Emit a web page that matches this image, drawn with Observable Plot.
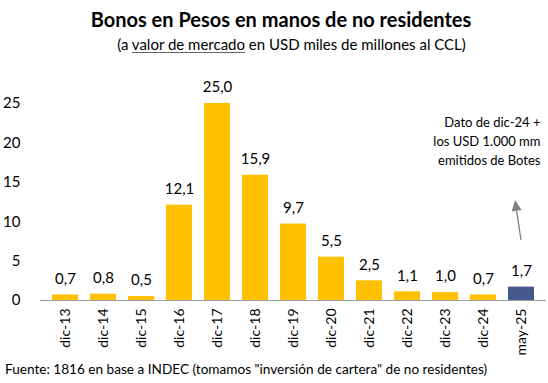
<!DOCTYPE html>
<html>
<head>
<meta charset="utf-8">
<script src="https://cdn.jsdelivr.net/npm/d3@7"></script>
<script src="https://cdn.jsdelivr.net/npm/@observablehq/plot@0.6"></script>
<style>
  body { margin: 0; background: #fff; font-family: Lato, "Open Sans", sans-serif; }
  #wrap { width: 548px; height: 383px; position: relative; overflow: hidden; }
  #title { position: absolute; left: 0; width: 562px; top: 7px; text-align: center; font-weight: bold; font-size: 20px; color: #000; }
  #subtitle { position: absolute; left: 0; width: 583px; top: 35px; text-align: center; font-size: 15px; color: #000; }
  #subtitle u { text-decoration-color: #666; text-underline-offset: 2px; }
  #chart { position: absolute; left: 0; top: 60px; }
  #caption { position: absolute; left: 5px; top: 361px; font-size: 13.6px; color: #000; white-space: nowrap; }
</style>
</head>
<body>
<div id="wrap">
  <div id="title">Bonos en Pesos en manos de no residentes</div>
  <div id="subtitle">(a <u>valor de mercado</u> en USD miles de millones al CCL)</div>
  <div id="chart"></div>
  <div id="caption">Fuente: 1816 en base a INDEC (tomamos "inversión de cartera" de no residentes)</div>
</div>
<script>
const categories = ["dic-13","dic-14","dic-15","dic-16","dic-17","dic-18","dic-19","dic-20","dic-21","dic-22","dic-23","dic-24","may-25"];
const values = [0.7, 0.8, 0.5, 12.1, 25.0, 15.9, 9.7, 5.5, 2.5, 1.1, 1.0, 0.7, 1.7];
const highlighted = ["may-25"];
const yTicks = [0, 5, 10, 15, 20, 25];
const noteLines = ["Dato de dic-24 +", "los USD 1.000 mm", "emitidos de Botes"];
const arrowFrom = 7.6;
const arrowTo = 12.7;

const data = categories.map((c, i) => ({cat: c, value: values[i], hi: highlighted.includes(c)}));
const fmt = v => v.toFixed(1).replace(".", ",");

const chart = Plot.plot({
  width: 548,
  height: 295,
  marginTop: 43,
  marginBottom: 55,
  marginLeft: 40,
  marginRight: 2,
  style: {fontFamily: "Lato, 'Open Sans', sans-serif", color: "#000", background: "transparent"},
  x: {domain: categories, padding: 0.31, label: null},
  y: {domain: [0, 25], label: null},
  marks: [
    Plot.barY(data, {x: "cat", y: "value", fill: d => d.hi ? "#45598F" : "#FFC000"}),
    Plot.ruleY([0], {stroke: "#999", strokeWidth: 1.2}),
    Plot.text(data, {x: "cat", y: "value", text: d => fmt(d.value), dy: -16, fontSize: 15, fill: "#000"}),
    Plot.axisX({tickSize: 0, tickPadding: 8, tickRotate: -90, fontSize: 14, label: null}),
    Plot.axisY({ticks: yTicks, tickSize: 0, tickPadding: 20, fontSize: 15, label: null, tickFormat: d => String(d)}),
    Plot.text([noteLines.join("\n")], {frameAnchor: "top-right", textAnchor: "end", lineAnchor: "middle", dx: -6, dy: 36, lineHeight: 1.46, fontSize: 13, fill: "#000"})
  ]
});
document.getElementById("chart").appendChild(chart);

// Annotation arrow (tilted, filled head), positioned through the chart's scales
const xs = chart.scale("x"), ys = chart.scale("y");
const cx = xs.apply("may-25") + xs.bandwidth / 2;
const x1 = cx, y1 = ys.apply(arrowFrom);
const x2 = cx - 6, y2 = ys.apply(arrowTo);
const ang = Math.atan2(y2 - y1, x2 - x1);
const hl = 11, hw = 5;
const bx = x2 - hl * Math.cos(ang), by = y2 - hl * Math.sin(ang);
const svg = d3.select(chart.tagName.toLowerCase() === "svg" ? chart : chart.querySelector("svg"));
svg.append("line").attr("x1", x1).attr("y1", y1).attr("x2", bx).attr("y2", by)
  .attr("stroke", "#808080").attr("stroke-width", 1.3);
svg.append("path")
  .attr("d", `M${x2},${y2}L${bx + hw * Math.sin(ang)},${by - hw * Math.cos(ang)}L${bx - hw * Math.sin(ang)},${by + hw * Math.cos(ang)}Z`)
  .attr("fill", "#808080");
</script>
</body>
</html>
